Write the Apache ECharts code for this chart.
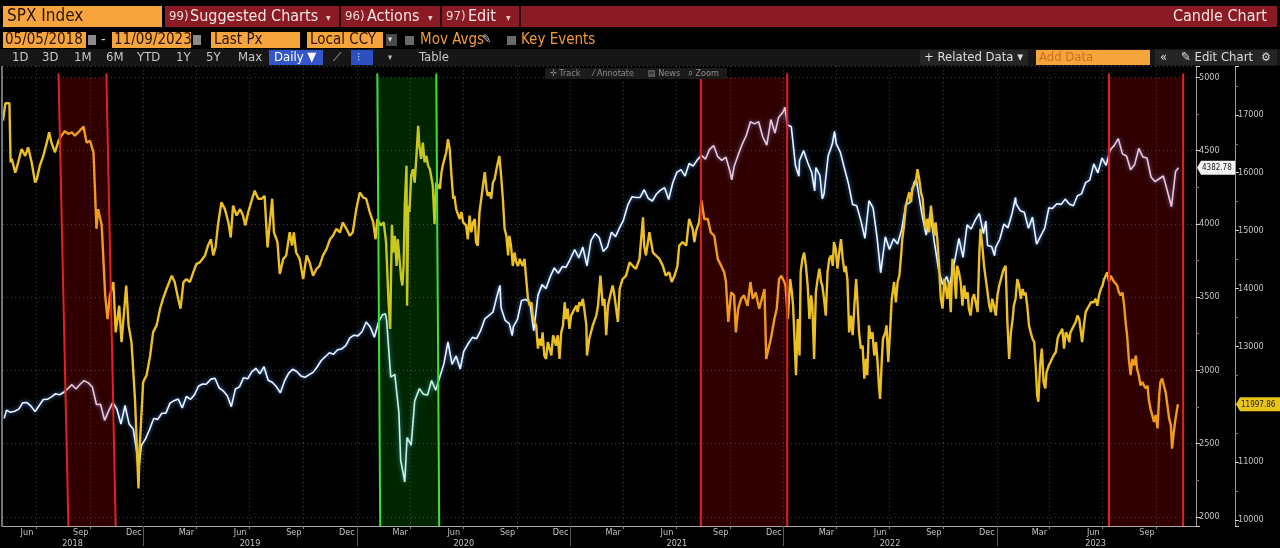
<!DOCTYPE html>
<html>
<head>
<meta charset="utf-8">
<script src="https://cdn.jsdelivr.net/npm/echarts@6/dist/echarts.min.js"></script>
<style>
  html, body { margin: 0; padding: 0; background: #000; }
  #chart { width: 1280px; height: 548px; }
</style>
</head>
<body>
<div id="chart"></div>
<script>
// chart start date, overlay points are stored as days after it
const START = '2018-05-05';
const AXIS_END = '2023-12-08';

// SPX closes (white / blue line, left value scale)
const spxWeekly = [
  ['2018-05-07',2672],['2018-05-11',2728],['2018-05-18',2713],['2018-05-25',2721],['2018-06-01',2735],['2018-06-08',2779],
  ['2018-06-15',2780],['2018-06-22',2755],['2018-06-29',2718],['2018-07-06',2760],['2018-07-13',2801],['2018-07-20',2802],
  ['2018-07-27',2819],['2018-08-03',2840],['2018-08-10',2833],['2018-08-17',2850],['2018-08-24',2875],['2018-08-31',2902],
  ['2018-09-07',2872],['2018-09-14',2905],['2018-09-21',2930],['2018-09-28',2914],['2018-10-05',2886],['2018-10-12',2767],
  ['2018-10-19',2768],['2018-10-26',2658],['2018-11-02',2723],['2018-11-09',2781],['2018-11-16',2736],['2018-11-23',2633],
  ['2018-11-30',2760],['2018-12-07',2633],['2018-12-14',2600],['2018-12-21',2417],['2018-12-24',2351],['2018-12-28',2486],
  ['2019-01-04',2532],['2019-01-11',2596],['2019-01-18',2671],['2019-01-25',2665],['2019-02-01',2707],['2019-02-08',2708],
  ['2019-02-15',2776],['2019-02-22',2793],['2019-03-01',2804],['2019-03-08',2743],['2019-03-15',2822],['2019-03-22',2801],
  ['2019-03-29',2834],['2019-04-05',2893],['2019-04-12',2907],['2019-04-18',2905],['2019-04-26',2940],['2019-05-03',2946],
  ['2019-05-10',2881],['2019-05-17',2860],['2019-05-24',2826],['2019-05-31',2752],['2019-06-07',2873],['2019-06-14',2887],
  ['2019-06-21',2950],['2019-06-28',2942],['2019-07-05',2990],['2019-07-12',3014],['2019-07-19',2977],['2019-07-26',3025],
  ['2019-08-02',2932],['2019-08-09',2919],['2019-08-16',2889],['2019-08-23',2847],['2019-08-30',2926],['2019-09-06',2979],
  ['2019-09-13',3007],['2019-09-20',2992],['2019-09-27',2962],['2019-10-04',2952],['2019-10-11',2970],['2019-10-18',2986],
  ['2019-10-25',3023],['2019-11-01',3067],['2019-11-08',3093],['2019-11-15',3120],['2019-11-22',3110],['2019-11-29',3141],
  ['2019-12-06',3146],['2019-12-13',3169],['2019-12-20',3221],['2019-12-27',3240],
  ['2020-01-03',3235],['2020-01-10',3265],['2020-01-17',3330],['2020-01-24',3295],['2020-01-31',3226],['2020-02-07',3328],
  ['2020-02-14',3380],['2020-02-19',3386],['2020-02-21',3338],['2020-02-28',2954],['2020-03-06',2972],['2020-03-13',2711],
  ['2020-03-16',2386],['2020-03-20',2305],['2020-03-23',2237],['2020-03-27',2541],['2020-04-03',2489],['2020-04-09',2790],
  ['2020-04-17',2875],['2020-04-24',2837],['2020-05-01',2831],['2020-05-08',2930],['2020-05-15',2864],['2020-05-22',2955],
  ['2020-05-29',3044],['2020-06-05',3194],['2020-06-12',3041],['2020-06-19',3098],['2020-06-26',3009],['2020-07-02',3130],
  ['2020-07-10',3185],['2020-07-17',3225],['2020-07-24',3216],['2020-07-31',3271],['2020-08-07',3351],['2020-08-14',3373],
  ['2020-08-21',3397],['2020-08-28',3508],['2020-09-02',3580],['2020-09-04',3427],['2020-09-11',3341],['2020-09-18',3319],
  ['2020-09-23',3237],['2020-09-25',3298],['2020-10-02',3348],['2020-10-09',3477],['2020-10-16',3484],['2020-10-23',3465],
  ['2020-10-30',3270],['2020-11-06',3510],['2020-11-13',3585],['2020-11-20',3558],['2020-11-27',3638],['2020-12-04',3699],
  ['2020-12-11',3663],['2020-12-18',3709],['2020-12-24',3703],['2020-12-31',3756],
  ['2021-01-08',3825],['2021-01-15',3768],['2021-01-22',3841],['2021-01-29',3714],['2021-02-05',3887],['2021-02-12',3934],
  ['2021-02-19',3907],['2021-02-26',3811],['2021-03-05',3842],['2021-03-12',3943],['2021-03-19',3913],['2021-03-26',3975],
  ['2021-04-01',4020],['2021-04-09',4129],['2021-04-16',4185],['2021-04-23',4180],['2021-04-30',4181],['2021-05-07',4233],
  ['2021-05-14',4174],['2021-05-21',4156],['2021-05-28',4204],['2021-06-04',4230],['2021-06-11',4247],['2021-06-18',4166],
  ['2021-06-25',4281],['2021-07-02',4352],['2021-07-09',4370],['2021-07-16',4327],['2021-07-23',4412],['2021-07-30',4395],
  ['2021-08-06',4437],['2021-08-13',4468],['2021-08-20',4442],['2021-08-27',4509],['2021-09-03',4535],['2021-09-10',4459],
  ['2021-09-17',4433],['2021-09-24',4455],['2021-10-01',4357],['2021-10-04',4300],['2021-10-08',4391],['2021-10-15',4471],
  ['2021-10-22',4545],['2021-10-29',4605],['2021-11-05',4697],['2021-11-12',4683],['2021-11-19',4698],['2021-11-26',4595],
  ['2021-12-03',4538],['2021-12-10',4712],['2021-12-17',4620],['2021-12-23',4725],['2021-12-31',4766],
  ['2022-01-03',4796],['2022-01-07',4677],['2022-01-14',4663],['2022-01-21',4398],['2022-01-27',4326],['2022-01-28',4432],
  ['2022-02-04',4501],['2022-02-11',4419],['2022-02-18',4349],['2022-02-23',4225],['2022-02-25',4385],['2022-03-04',4329],
  ['2022-03-08',4170],['2022-03-11',4204],['2022-03-18',4463],['2022-03-25',4543],['2022-03-29',4631],['2022-04-01',4546],
  ['2022-04-08',4488],['2022-04-14',4393],['2022-04-22',4272],['2022-04-29',4132],['2022-05-06',4123],['2022-05-13',4024],
  ['2022-05-20',3901],['2022-05-27',4158],['2022-06-03',4109],['2022-06-10',3901],['2022-06-16',3666],['2022-06-17',3675],
  ['2022-06-24',3912],['2022-07-01',3825],['2022-07-08',3899],['2022-07-15',3863],['2022-07-22',3962],['2022-07-29',4130],
  ['2022-08-05',4145],['2022-08-12',4280],['2022-08-16',4305],['2022-08-19',4228],['2022-08-26',4058],['2022-09-02',3924],
  ['2022-09-09',4067],['2022-09-16',3873],['2022-09-23',3693],['2022-09-30',3586],['2022-10-07',3640],['2022-10-12',3577],
  ['2022-10-14',3583],['2022-10-21',3752],['2022-10-28',3901],['2022-11-04',3771],['2022-11-11',3993],['2022-11-18',3965],
  ['2022-11-25',4026],['2022-12-02',4072],['2022-12-09',3934],['2022-12-13',4019],['2022-12-16',3852],['2022-12-23',3845],
  ['2022-12-28',3783],['2022-12-30',3840],
  ['2023-01-06',3895],['2023-01-13',3999],['2023-01-20',3973],['2023-01-27',4071],['2023-02-02',4180],['2023-02-03',4136],
  ['2023-02-10',4090],['2023-02-17',4079],['2023-02-24',3970],['2023-03-03',4046],['2023-03-10',3862],['2023-03-17',3917],
  ['2023-03-24',3971],['2023-03-31',4109],['2023-04-06',4105],['2023-04-14',4138],['2023-04-21',4133],['2023-04-28',4169],
  ['2023-05-05',4136],['2023-05-12',4124],['2023-05-19',4192],['2023-05-26',4205],['2023-06-02',4282],['2023-06-09',4299],
  ['2023-06-16',4410],['2023-06-23',4348],['2023-06-30',4450],['2023-07-07',4399],['2023-07-14',4505],['2023-07-21',4536],
  ['2023-07-28',4582],['2023-07-31',4589],['2023-08-04',4478],['2023-08-11',4464],['2023-08-18',4370],['2023-08-25',4406],
  ['2023-09-01',4515],['2023-09-08',4457],['2023-09-15',4450],['2023-09-22',4320],['2023-09-29',4288],['2023-10-06',4308],
  ['2023-10-13',4327],['2023-10-20',4224],['2023-10-27',4117],['2023-11-03',4358],['2023-11-08',4382.78]
];

// second series (yellow line, right value scale): [days after START, value]
const overlayPts = [
  [0,16900],[4,17200],[11,17200],[13,16180],[15,16240],[21,16000],[26,16180],[32,16410],[38,16290],[43,16440],
  [49,16180],[55,15830],[58,15890],[63,16120],[69,16290],[75,16520],[79,16700],[83,16520],[89,16350],[95,16550],
  [100,16640],[106,16720],[112,16670],[118,16700],[123,16640],[129,16700],[138,16800],[143,16520],[149,16550],[155,16350],
  [160,15030],[163,15370],[169,15090],[175,13880],[179,13470],[183,13880],[189,14110],[193,13240],[199,13700],[203,13070],
  [211,14050],[215,13360],[220,13070],[226,12090],[232,10540],[234,11230],[240,12380],[246,12500],[252,12840],[257,13240],
  [263,13360],[269,13650],[274,13820],[280,13990],[289,14220],[294,14110],[300,13820],[304,13650],[309,14110],[314,14160],
  [320,14110],[326,14280],[331,14420],[337,14450],[340,14450],[346,14570],[351,14740],[356,14850],[360,14570],[364,14710],
  [368,15090],[374,15490],[380,15370],[386,15140],[390,14880],[394,15430],[400,15260],[406,15370],[411,15260],[415,15090],
  [420,15320],[425,15490],[431,15690],[437,15550],[443,15550],[448,15600],[453,14710],[457,15140],[461,15550],[464,14970],
  [470,14800],[474,14250],[480,14510],[485,14570],[491,14970],[495,14740],[498,14970],[502,14620],[508,14510],[514,14160],
  [520,14570],[525,14450],[531,14220],[537,14340],[542,14390],[548,14570],[554,14680],[560,14850],[565,14910],[571,15030],
  [577,14970],[582,15140],[588,15030],[594,14910],[599,14970],[605,15370],[611,15660],[617,15570],[622,15550],[628,15320],
  [634,15140],[638,14850],[641,15200],[647,15090],[652,15140],[656,14800],[660,13820],[663,13300],[666,15100],[668,14620],
  [671,14910],[674,14390],[676,14850],[679,14510],[682,14160],[684,14050],[686,14390],[688,15430],[691,16120],[692,13700],
  [694,15430],[696,15320],[699,15950],[702,16060],[705,15830],[708,16290],[711,16810],[713,16470],[716,16240],[719,16520],
  [722,16180],[725,16290],[728,16120],[731,16060],[733,15950],[736,15780],[739,15110],[742,15830],[745,15780],[748,15720],
  [751,16010],[753,16120],[756,16240],[759,16350],[762,16580],[765,16410],[768,15950],[771,15550],[773,15600],[776,15370],
  [782,15200],[785,15320],[788,15140],[793,15090],[796,14850],[799,15260],[802,14970],[805,15140],[808,15200],[810,14800],
  [813,14740],[816,15320],[822,15780],[825,16010],[828,15720],[830,15600],[833,15660],[836,15550],[839,15830],[842,15890],
  [845,16060],[850,16290],[853,15950],[856,15550],[859,15030],[862,14910],[865,14570],[867,14910],[870,14740],[873,14390],
  [876,14620],[879,14450],[882,14390],[885,14510],[887,14450],[890,14390],[893,14510],[896,14160],[899,13820],[902,13700],
  [905,13760],[907,13530],[910,13420],[913,13360],[916,12960],[919,13130],[922,13010],[924,13240],[927,12840],[930,12780],
  [933,13070],[936,12960],[939,12840],[942,13190],[944,13130],[947,13010],[950,13190],[953,12780],[956,13240],[959,13360],
  [962,13760],[964,13470],[967,13650],[970,13300],[973,13530],[976,13590],[979,13650],[982,13700],[984,13590],[987,13760],
  [990,13700],[993,13820],[996,13600],[999,13360],[1000,12840],[1004,13130],[1010,13360],[1016,13530],[1019,13700],[1023,14220],
  [1027,13700],[1030,13820],[1033,13190],[1036,13700],[1041,13930],[1044,14050],[1047,13880],[1053,13420],[1056,13990],[1061,14160],
  [1067,14220],[1073,14450],[1078,14390],[1084,14340],[1090,14510],[1096,15230],[1098,14740],[1101,14570],[1107,14970],[1113,14620],
  [1118,14570],[1124,14510],[1130,14390],[1135,14220],[1141,14280],[1145,14110],[1150,14220],[1155,14390],[1158,14740],[1164,14800],
  [1170,14740],[1175,15200],[1181,15030],[1184,14800],[1187,15000],[1192,15140],[1196,15520],[1201,15200],[1207,15200],[1212,14970],
  [1218,14910],[1224,14510],[1230,14390],[1235,14280],[1238,14110],[1242,13420],[1247,13930],[1252,13880],[1255,13240],[1259,13650],
  [1264,13820],[1269,13880],[1275,13700],[1280,14110],[1284,13820],[1289,13930],[1295,13650],[1298,13760],[1304,13990],[1307,12780],
  [1311,12960],[1315,13130],[1321,13470],[1325,13650],[1329,14160],[1333,14220],[1338,14110],[1340,14050],[1344,13470],[1348,14160],
  [1351,13930],[1353,13700],[1358,12500],[1361,13470],[1364,12840],[1366,14280],[1369,14510],[1372,14620],[1375,14390],[1378,14050],
  [1381,13470],[1384,13880],[1386,13700],[1389,12780],[1392,13930],[1395,14160],[1398,14340],[1401,14110],[1403,14050],[1406,13820],
  [1409,13530],[1412,14280],[1415,14510],[1418,14570],[1421,14390],[1423,14800],[1426,14680],[1429,14340],[1432,14620],[1435,14850],
  [1438,14510],[1441,14280],[1443,14390],[1446,14160],[1449,13240],[1452,13530],[1455,13190],[1458,13700],[1461,14160],[1463,13820],
  [1466,13240],[1469,12960],[1472,13010],[1475,12440],[1478,12780],[1480,12500],[1483,13360],[1486,13130],[1489,13240],[1492,12840],
  [1495,13070],[1498,12670],[1500,12320],[1502,12090],[1505,12780],[1507,13130],[1511,13240],[1513,13360],[1516,12730],[1519,13240],
  [1522,13820],[1526,14110],[1529,13760],[1532,14110],[1535,14220],[1538,14570],[1540,14850],[1543,15090],[1546,15430],[1549,15550],
  [1552,15660],[1555,15490],[1557,15720],[1560,15780],[1563,15830],[1566,16060],[1569,15890],[1572,15660],[1575,15550],[1577,15260],
  [1580,15030],[1583,15200],[1586,14970],[1589,15430],[1592,15140],[1595,14910],[1597,15140],[1600,14850],[1603,14390],[1606,13820],
  [1609,13650],[1612,14160],[1614,14050],[1617,13820],[1620,14110],[1623,13590],[1626,14510],[1629,14280],[1632,13820],[1634,14390],
  [1637,14280],[1640,14110],[1643,13700],[1646,14050],[1649,13820],[1652,13930],[1654,13650],[1657,13530],[1660,13820],[1663,13900],
  [1666,13880],[1669,13590],[1672,14620],[1674,15030],[1677,14740],[1680,14390],[1683,14160],[1686,13930],[1689,13700],[1692,13590],
  [1694,13820],[1697,13700],[1700,13530],[1703,13880],[1706,14050],[1709,14160],[1712,14280],[1714,14340],[1717,14390],[1720,13420],
  [1723,12780],[1726,13240],[1729,13470],[1731,13700],[1734,13820],[1737,14160],[1740,14050],[1743,13820],[1746,13990],[1749,13880],
  [1751,13930],[1754,13700],[1757,13360],[1760,13240],[1763,13130],[1766,13070],[1769,12550],[1771,12150],[1773,12040],[1776,12670],
  [1779,12960],[1782,12380],[1785,12270],[1787,12550],[1791,12670],[1794,12730],[1799,12840],[1803,12900],[1806,13130],[1808,13190],
  [1811,13240],[1814,13300],[1817,12960],[1820,13240],[1823,13190],[1826,13070],[1828,13240],[1831,13300],[1834,13360],[1837,13420],
  [1840,13530],[1843,13470],[1846,13240],[1848,13070],[1851,13360],[1854,13590],[1857,13650],[1860,13700],[1863,13760],[1866,13730],
  [1868,13760],[1871,13820],[1874,13700],[1877,13880],[1880,13990],[1883,14050],[1885,14140],[1888,14160],[1891,14280],[1894,14110],
  [1897,14220],[1900,14160],[1903,14110],[1905,14140],[1908,14050],[1911,13930],[1914,13880],[1917,13930],[1920,13700],[1923,13360],
  [1925,13190],[1928,12780],[1931,12500],[1934,12780],[1937,12670],[1940,12840],[1942,12610],[1945,12500],[1948,12320],[1951,12380],
  [1954,12320],[1957,12270],[1960,12320],[1962,12090],[1965,11920],[1968,11810],[1971,11690],[1974,11810],[1977,11580],[1980,12150],
  [1982,12380],[1985,12440],[1988,12320],[1991,12210],[1994,11980],[1997,11750],[2000,11630],[2002,11230],[2005,11520],[2008,11750],
  [2012,11997.86]
];

// shaded event windows: line dates at the top and at the bottom of the plot
const eventWindows = [
  { kind: 'red',   startTop: '2018-08-08', startBottom: '2018-08-25', endTop: '2018-10-29', endBottom: '2018-11-14' },
  { kind: 'green', startTop: '2020-02-05', startBottom: '2020-02-10', endTop: '2020-05-16', endBottom: '2020-05-21' },
  { kind: 'red',   startTop: '2021-08-12', startBottom: '2021-08-12', endTop: '2022-01-07', endBottom: '2022-01-07' },
  { kind: 'red',   startTop: '2023-07-12', startBottom: '2023-07-12', endTop: '2023-11-16', endBottom: '2023-11-16' }
];

// axis labels
const monthLabelDates = ['2018-06-15','2018-09-15','2018-12-15','2019-03-15','2019-06-15','2019-09-15','2019-12-15',
  '2020-03-15','2020-06-15','2020-09-15','2020-12-15','2021-03-15','2021-06-15','2021-09-15','2021-12-15',
  '2022-03-15','2022-06-15','2022-09-15','2022-12-15','2023-03-15','2023-06-15','2023-09-15'];
const quarterStarts = ['2018-07-01','2018-10-01','2019-01-01','2019-04-01','2019-07-01','2019-10-01','2020-01-01',
  '2020-04-01','2020-07-01','2020-10-01','2021-01-01','2021-04-01','2021-07-01','2021-10-01','2022-01-01',
  '2022-04-01','2022-07-01','2022-10-01','2023-01-01','2023-04-01','2023-07-01','2023-10-01'];
const yearStarts = ['2019-01-01','2020-01-01','2021-01-01','2022-01-01','2023-01-01'];
const yearLabelDates = ['2018-09-01','2019-07-02','2020-07-02','2021-07-02','2022-07-02','2023-06-19'];
const MONTHS = ['Jan','Feb','Mar','Apr','May','Jun','Jul','Aug','Sep','Oct','Nov','Dec'];

const FONT = '"Liberation Sans Narrow","DejaVu Sans Condensed","Roboto Condensed","Liberation Sans",sans-serif';
const ORANGE = '#f6a53c';
const DAY = 86400000;
const ts = s => new Date(s + 'T00:00:00').getTime();
const t0 = ts(START);

const spxData = spxWeekly.map(p => [ts(p[0]), p[1]]);
const overlayData = overlayPts.map(p => [t0 + p[0] * DAY, p[1]]);
const windowData = eventWindows.map(w => [ts(w.startTop), ts(w.startBottom), ts(w.endTop), ts(w.endBottom), w.kind === 'red' ? 0 : 1]);

const GRID = { left: 3, right: 84, top: 66, bottom: 21 };
const axisX = 1280 - GRID.right;

const chart = echarts.init(document.getElementById('chart'));

// x axes are numeric timestamps so that custom label / tick positions can be used
const option = {
  backgroundColor: '#000',
  animation: false,
  grid: GRID,
  xAxis: [
    {
      type: 'value',
      min: t0,
      max: ts(AXIS_END),
      axisLine: { show: true, lineStyle: { color: '#a8a8a8', width: 1 } },
      axisTick: { show: true, customValues: quarterStarts.map(ts), length: 3, lineStyle: { color: '#888' } },
      splitLine: { show: true, lineStyle: { color: '#3c3c3c', type: [1, 3] } },
      axisLabel: {
        customValues: monthLabelDates.map(ts),
        formatter: v => MONTHS[new Date(v).getMonth()],
        color: '#c4c4c4', fontSize: 9, fontFamily: FONT, margin: 2
      }
    },
    {
      type: 'value',
      min: t0,
      max: ts(AXIS_END),
      position: 'bottom',
      axisLine: { show: false },
      axisTick: { show: true, customValues: yearStarts.map(ts), length: 20, lineStyle: { color: '#5a5a5a' } },
      splitLine: { show: false },
      axisLabel: {
        customValues: yearLabelDates.map(ts),
        formatter: v => String(new Date(v).getFullYear()),
        color: '#c4c4c4', fontSize: 9, fontFamily: FONT, margin: 13
      }
    }
  ],
  yAxis: [
    {
      type: 'value',
      position: 'right',
      min: 1937, max: 5078,
      minInterval: 500, maxInterval: 500,
      axisLine: { show: true, lineStyle: { color: '#9a9a9a' } },
      axisTick: { show: true, length: 4, lineStyle: { color: '#cfcfcf' } },
      minorTick: { show: true, splitNumber: 2, length: 3, lineStyle: { color: '#777' } },
      axisLabel: { color: '#c4c4c4', fontSize: 9, fontFamily: FONT, margin: 3, formatter: v => String(v), showMinLabel: false, showMaxLabel: false },
      splitLine: { show: true, lineStyle: { color: '#3c3c3c', type: [1, 3] } }
    },
    {
      type: 'value',
      position: 'right',
      offset: 39,
      min: 9892, max: 17845,
      minInterval: 1000, maxInterval: 1000,
      axisLine: { show: true, lineStyle: { color: '#9a9a9a' } },
      axisTick: { show: true, length: 4, lineStyle: { color: '#cfcfcf' } },
      minorTick: { show: true, splitNumber: 2, length: 3, lineStyle: { color: '#777' } },
      axisLabel: { color: '#c4c4c4', fontSize: 9, fontFamily: FONT, margin: 3, formatter: v => String(v), showMinLabel: false, showMaxLabel: false },
      splitLine: { show: false }
    }
  ],
  series: [
    {
      name: 'SPX Index',
      type: 'line',
      data: spxData,
      yAxisIndex: 0,
      showSymbol: false,
      z: 2,
      lineStyle: { color: '#eef4ff', width: 1.6, shadowColor: 'rgba(70,140,235,1)', shadowBlur: 4 }
    },
    {
      name: 'Overlay',
      type: 'line',
      data: overlayData,
      yAxisIndex: 1,
      showSymbol: false,
      z: 3,
      lineStyle: { color: '#ecbf22', width: 2.4 }
    },
    {
      name: 'Windows',
      type: 'custom',
      data: windowData,
      yAxisIndex: 0,
      encode: { x: [0, 1, 2, 3] },
      silent: true,
      z: 10,
      renderItem: function (params, api) {
        const cs = params.coordSys;
        const top = api.coord([api.value(0), 5000])[1];
        const bot = cs.y + cs.height;
        const xa = api.coord([api.value(0), 3000])[0];
        const xb = api.coord([api.value(1), 3000])[0];
        const xc = api.coord([api.value(2), 3000])[0];
        const xd = api.coord([api.value(3), 3000])[0];
        const red = api.value(4) === 0;
        const fill = red ? 'rgba(255,0,0,0.19)' : 'rgba(0,255,0,0.15)';
        const stroke = red ? '#e3221d' : '#3ee03a';
        return {
          type: 'group',
          children: [
            { type: 'polygon', shape: { points: [[xa, top], [xc, top], [xd, bot], [xb, bot]] }, style: { fill: fill } },
            { type: 'line', shape: { x1: xa, y1: top - 4, x2: xb, y2: bot }, style: { stroke: stroke, lineWidth: 2 } },
            { type: 'line', shape: { x1: xc, y1: top - 4, x2: xd, y2: bot }, style: { stroke: stroke, lineWidth: 2 } }
          ]
        };
      }
    }
  ]
};

chart.setOption(option);

// header / toolbar chrome
function T(x, y, text, size, fill, align) {
  return { type: 'text', x: x, y: y, z: 110, silent: true,
    style: { text: text, fill: fill, fontSize: size, fontFamily: FONT, verticalAlign: 'middle', align: align || 'left' } };
}
function R(x, y, w, h, fill) {
  return { type: 'rect', z: 99, silent: true, shape: { x: x, y: y, width: w, height: h }, style: { fill: fill } };
}

const g = [];
// row 1
g.push(R(3, 6, 159, 21, ORANGE), T(7, 17, 'SPX Index', 17, '#2a1300'));
g.push(R(165, 6, 1112, 21, '#8a1b24'));
g.push(R(339, 6, 2, 21, '#2a0508'), R(440, 6, 2, 21, '#2a0508'), R(519, 6, 2, 21, '#2a0508'));
g.push(T(169, 17, '99)', 13, '#ecd6d6'), T(190, 17, 'Suggested Charts', 16, '#f4e6e6'), T(326, 18, '▾', 10, '#e0c8c8'));
g.push(T(345, 17, '96)', 13, '#ecd6d6'), T(367, 17, 'Actions', 16, '#f4e6e6'), T(428, 18, '▾', 10, '#e0c8c8'));
g.push(T(446, 17, '97)', 13, '#ecd6d6'), T(468, 17, 'Edit', 16, '#f4e6e6'), T(506, 18, '▾', 10, '#e0c8c8'));
g.push(T(1267, 17, 'Candle Chart', 16, '#f4e6e6', 'right'));
// row 2
g.push(R(3, 32, 83, 16, ORANGE), T(5, 40.5, '05/05/2018', 15, '#2a1300'));
g.push(R(88, 35, 8, 10, '#8a8a8a'), T(101, 40, '-', 14, '#ddd'));
g.push(R(112, 32, 79, 16, ORANGE), T(114, 40.5, '11/09/2023', 15, '#2a1300'));
g.push(R(193, 35, 8, 10, '#8a8a8a'));
g.push(R(211, 32, 89, 16, ORANGE), T(214, 40.5, 'Last Px', 15, '#2a1300'));
g.push(R(307, 32, 76, 16, ORANGE), T(310, 40.5, 'Local CCY', 15, '#2a1300'));
g.push(R(386, 34, 11, 12, '#4a4a4a'), T(388, 40, '▾', 9, '#ddd'));
g.push(R(405, 36, 9, 9, '#6a6a6a'), T(420, 40.5, 'Mov Avgs', 15, '#f39c2e'), T(482, 40, '✎', 12, '#cfcfcf'));
g.push(R(507, 36, 9, 9, '#6a6a6a'), T(521, 40.5, 'Key Events', 15, '#f39c2e'));
// row 3
g.push(R(0, 49, 1280, 17, '#161616'));
[['1D', 12], ['3D', 42], ['1M', 74], ['6M', 106], ['YTD', 137], ['1Y', 176], ['5Y', 206], ['Max', 238]]
  .forEach(b => g.push(T(b[1], 57.5, b[0], 13, '#c8c8c8')));
g.push(R(269, 50, 54, 15, '#3556c9'), T(274, 57.5, 'Daily ▼', 13, '#ffffff'));
g.push(T(333, 57.5, '⟋', 12, '#bbb'), R(351, 50, 22, 15, '#2c4fbf'), T(357, 57.5, '⫶', 12, '#e8e8e8'));
g.push(T(388, 58, '▾', 9, '#bbb'), T(419, 57.5, 'Table', 13, '#c8c8c8'));
g.push(R(920, 50, 108, 15, '#252525'), T(924, 57.5, '+ Related Data ▾', 13, '#dedede'));
g.push(R(1036, 50, 114, 15, ORANGE), T(1039, 57.5, 'Add Data', 13, '#c8711a'));
g.push(R(1155, 50, 122, 15, '#252525'), T(1160, 57.5, '«', 13, '#dedede'), T(1181, 57.5, '✎ Edit Chart', 13, '#dedede'), T(1261, 57.5, '⚙', 12, '#dedede'));
// small plot toolbar
g.push(R(545, 68, 182, 11, '#1b1b1b'));
g.push(T(550, 73.5, '✛ Track', 9, '#8a8a8a'), T(593, 73.5, '⁄ Annotate', 9, '#8a8a8a'), T(648, 73.5, '▤ News', 9, '#8a8a8a'), T(688, 73.5, '⌕ Zoom', 9, '#8a8a8a'));
// left plot border
g.push(R(1, 66, 2, 461, '#6c7680'));

// last value tags on the two value axes
const lastSpx = spxWeekly[spxWeekly.length - 1][1];
const lastOverlay = overlayPts[overlayPts.length - 1][1];
const ySpx = chart.convertToPixel({ yAxisIndex: 0 }, lastSpx);
const yOv = chart.convertToPixel({ yAxisIndex: 1 }, lastOverlay);
g.push({ type: 'polygon', z: 101, silent: true,
  shape: { points: [[axisX + 1, ySpx], [axisX + 5, ySpx - 7], [axisX + 39, ySpx - 7], [axisX + 39, ySpx + 7], [axisX + 5, ySpx + 7]] },
  style: { fill: '#f2f2f2' } });
g.push(T(axisX + 6, ySpx + 0.5, lastSpx.toFixed(2), 8, '#222'));
g.push({ type: 'polygon', z: 101, silent: true,
  shape: { points: [[axisX + 40, yOv], [axisX + 44, yOv - 7], [1280, yOv - 7], [1280, yOv + 7], [axisX + 44, yOv + 7]] },
  style: { fill: '#e9c51c' } });
g.push(T(axisX + 45, yOv + 0.5, lastOverlay.toFixed(2), 8, '#222'));

chart.setOption({ graphic: g });
</script>
</body>
</html>
